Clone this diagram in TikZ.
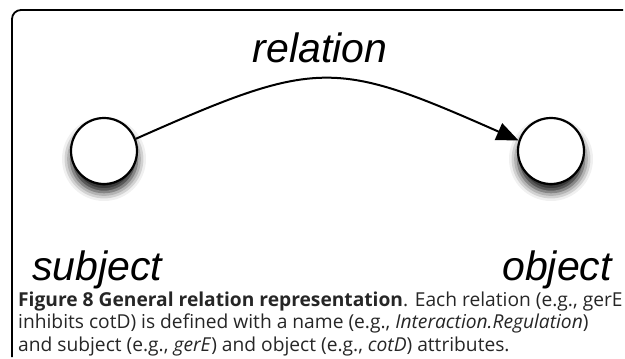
\documentclass[tikz,border=0pt]{standalone}
\usepackage{fontspec}
\setmainfont{Open Sans}
\newfontfamily\labelfont{Liberation Sans}
\usetikzlibrary{arrows.meta,shadows.blur}
\begin{document}
\begin{tikzpicture}[x=1pt,y=-1pt,
  entity/.style={circle,draw=black,line width=2.2pt,fill=white,minimum size=66pt,inner sep=0pt,
    blur shadow={shadow xshift=0pt,shadow yshift=-8pt,shadow blur radius=9pt,shadow opacity=95}},
  biglabel/.style={font=\labelfont\itshape\fontsize{41}{41}\selectfont,inner sep=0pt},
  rel/.style={line width=2pt,-{Triangle[length=22pt,width=18pt]}},
  frame/.style={line width=1.8pt,rounded corners=9pt},
  caption/.style={anchor=base west,inner sep=0pt,text=black!85,font=\fontsize{19.2}{22.5}\selectfont}
]
\useasboundingbox (0,0) rectangle (625,359);
\draw[frame] (623,10) -- (12,10) -- (12,357);
\node[entity] (s) at (104,151) {};
\node[entity] (o) at (551,151) {};
\draw[rel] (s.21) .. controls (318,58) and (334,59) .. (o.162);
\node[biglabel,anchor=base] (rl) at (320,62) {relation};
\node[biglabel,anchor=base west] (sl) at (32,280) {subject};
\node[biglabel,anchor=base east] (ol) at (612,280) {object};
\node[caption] (cap1) at (18,306) {\textbf{Figure 8 General relation representation}. Each relation (e.g., gerE};
\node[caption] (cap2) at (18,328.5) {inhibits cotD) is defined with a name (e.g., \textit{Interaction.Regulation})};
\node[caption] (cap3) at (18,351) {and subject (e.g., \textit{gerE}) and object (e.g., \textit{cotD}) attributes.};
\end{tikzpicture}
\end{document}
